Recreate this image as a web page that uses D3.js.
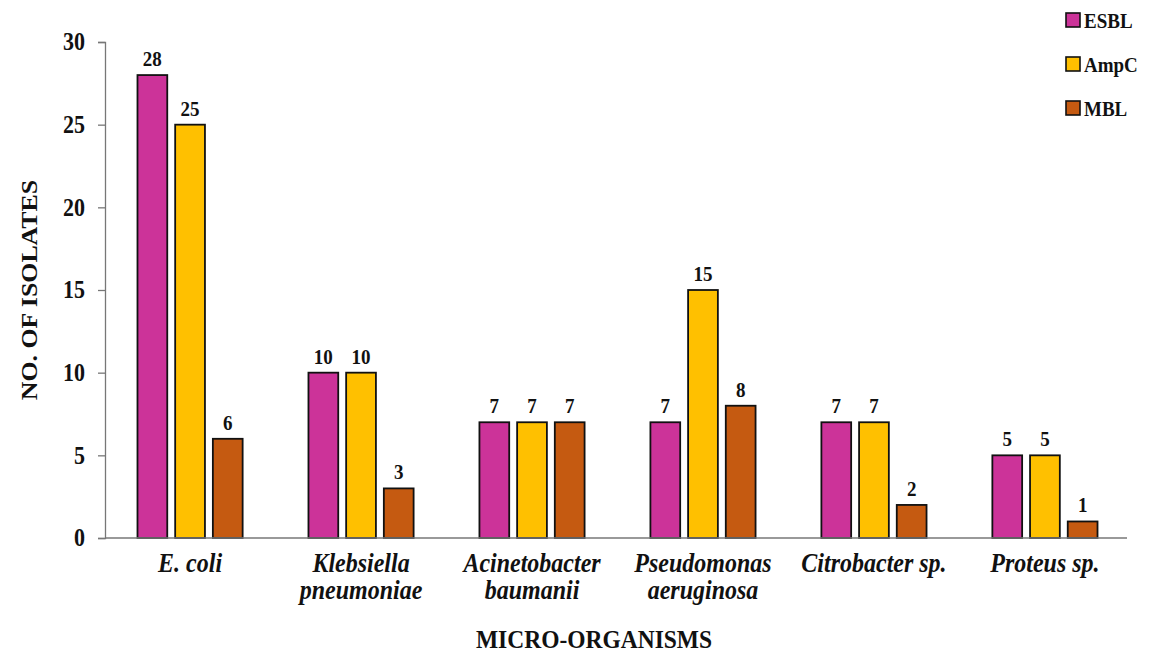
<!DOCTYPE html>
<html>
<head>
<meta charset="utf-8">
<script src="https://cdn.jsdelivr.net/npm/d3@7"></script>
<style>
  body { margin: 0; background: #fff; }
  svg text { font-family: "Liberation Serif", "Times New Roman", Times, serif; font-weight: bold; fill: #111; }
</style>
</head>
<body>
<div id="chart"></div>
<script>
var organisms = [["E. coli"], ["Klebsiella", "pneumoniae"], ["Acinetobacter", "baumanii"],
                 ["Pseudomonas", "aeruginosa"], ["Citrobacter sp."], ["Proteus sp."]];
var seriesNames = ["ESBL", "AmpC", "MBL"];
var esbl = [28, 10, 7, 7, 7, 5];
var ampc = [25, 10, 7, 15, 7, 5];
var mbl = [6, 3, 7, 8, 2, 1];
var yTicks = [0, 5, 10, 15, 20, 25, 30];
var colors = ["#CC3399", "#FFC000", "#C55A11"];
var serif = '"Liberation Serif", "Times New Roman", Times, serif';
var stretch = 1.1; // the original text is a bit taller than wide

var W = 1149, H = 655,
    margin = {top: 42, right: 19, bottom: 117, left: 105},
    w = W - margin.left - margin.right,
    h = H - margin.top - margin.bottom;

var svg = d3.select("#chart").append("svg")
    .attr("width", W)
    .attr("height", H)
    .attr("font-family", serif);
var g = svg.append("g")
    .attr("transform", "translate(" + margin.left + "," + margin.top + ")");

function place(x, y) {
    return "translate(" + x + "," + y + ") scale(1," + stretch + ")";
}

var x0 = d3.scaleBand()
    .domain(d3.range(organisms.length))
    .range([0, w])
    .paddingInner(0.385)
    .paddingOuter(0.19);
var x1 = d3.scaleBand()
    .domain(seriesNames)
    .range([0, x0.bandwidth()])
    .paddingInner(0.21);
var y = d3.scaleLinear().domain([0, 30]).range([h, 0]);

var table = organisms.map(function(o, i) {
    return [esbl[i], ampc[i], mbl[i]];
});

// y axis
var yAxis = d3.axisLeft(y).tickValues(yTicks).tickSize(7).tickPadding(13);
var ya = g.append("g").call(yAxis).attr("font-family", serif);
ya.select(".domain").attr("stroke", "#777").attr("stroke-width", 1.3);
ya.selectAll(".tick line").attr("stroke", "#777").attr("stroke-width", 1.3);
ya.selectAll(".tick text")
    .style("font-size", "22px").style("font-family", serif).style("font-weight", "bold")
    .attr("fill", "#111")
    .attr("transform", "scale(1," + stretch + ")");

// bars
var groups = g.selectAll(".grp").data(table).enter().append("g")
    .attr("transform", function(d, i) { return "translate(" + x0(i) + ",0)"; });
groups.selectAll("rect").data(function(d) {
        return d.map(function(v, j) { return {k: seriesNames[j], v: v, j: j}; });
    }).enter().append("rect")
    .attr("x", function(d) { return x1(d.k); })
    .attr("y", function(d) { return y(d.v); })
    .attr("width", x1.bandwidth())
    .attr("height", function(d) { return h - y(d.v); })
    .attr("fill", function(d) { return colors[d.j]; })
    .attr("stroke", "#111")
    .attr("stroke-width", 1.8);
groups.selectAll(".val").data(function(d) {
        return d.map(function(v, j) { return {k: seriesNames[j], v: v}; });
    }).enter().append("text")
    .attr("transform", function(d) { return place(x1(d.k) + x1.bandwidth() / 2, y(d.v) - 9); })
    .attr("text-anchor", "middle")
    .style("font-size", "19px")
    .text(function(d) { return d.v; });

// x axis line
g.append("line")
    .attr("x1", 0).attr("x2", x0.range()[1] - 3)
    .attr("y1", h).attr("y2", h)
    .attr("stroke", "#777").attr("stroke-width", 1.3);

// category labels
organisms.forEach(function(lines, i) {
    var t = g.append("text")
        .attr("transform", place(x0(i) + x0.bandwidth() / 2, h + 34))
        .attr("text-anchor", "middle")
        .style("font-size", "24px")
        .style("font-style", "italic");
    lines.forEach(function(s, k) {
        t.append("tspan")
            .attr("x", 0)
            .attr("dy", k === 0 ? 0 : 27 / stretch)
            .text(s);
    });
});

// axis titles
svg.append("text")
    .attr("transform", place(594, 648))
    .attr("text-anchor", "middle")
    .style("font-size", "23.5px")
    .text("MICRO-ORGANISMS");
svg.append("text")
    .attr("transform", "translate(37,290) scale(1," + stretch + ") rotate(-90)")
    .attr("text-anchor", "middle")
    .style("font-size", "23.5px")
    .text("NO. OF ISOLATES");

// legend
var lg = svg.append("g").attr("transform", "translate(1066,13)");
seriesNames.forEach(function(s, i) {
    lg.append("rect")
        .attr("x", 0).attr("y", i * 44)
        .attr("width", 14).attr("height", 14)
        .attr("fill", colors[i])
        .attr("stroke", "#111").attr("stroke-width", 1.6);
    lg.append("text")
        .attr("transform", place(18, i * 44 + 15))
        .style("font-size", "19px")
        .text(s);
});
</script>
</body>
</html>
